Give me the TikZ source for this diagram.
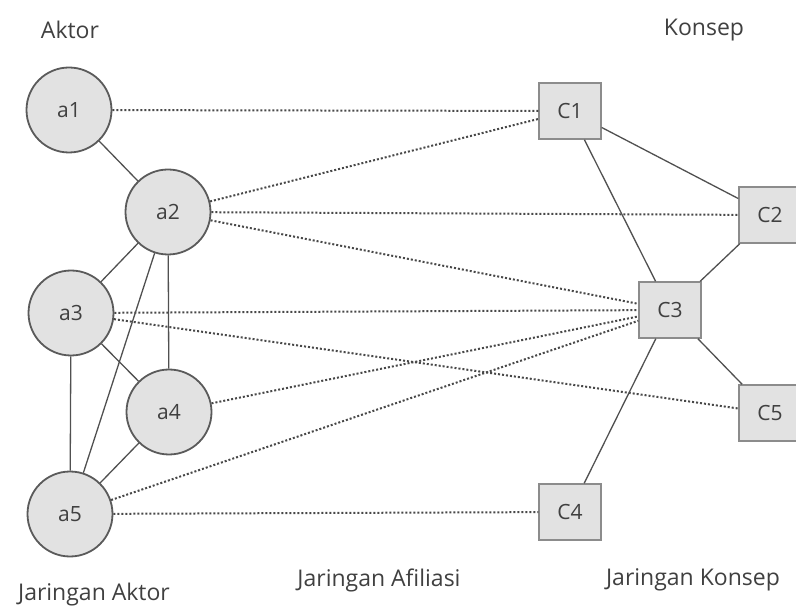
\documentclass[tikz,border=0pt]{standalone}
\usepackage{fontspec}
\setmainfont{Open Sans}
\definecolor{nodefill}{HTML}{E2E2E2}
\definecolor{nodeline}{HTML}{5A5A5A}
\definecolor{boxline}{HTML}{8C8C8C}
\definecolor{edgeline}{HTML}{505050}
\definecolor{textgray}{HTML}{404040}
\begin{document}
\begin{tikzpicture}[x=1pt, y=-1pt,
    actor/.style={circle, draw=nodeline, line width=1.8pt, fill=nodefill,
        minimum size=85pt, inner sep=0pt, font=\fontsize{21}{24}\selectfont, text=textgray},
    concept/.style={rectangle, draw=boxline, line width=1.4pt, fill=nodefill,
        minimum width=62pt, minimum height=56pt, inner sep=0pt,
        font=\fontsize{21}{24}\selectfont, text=textgray},
    tie/.style={draw=edgeline, line width=1.3pt},
    affil/.style={draw=edgeline!90!black, line width=2pt, dash pattern=on 2pt off 2pt},
    caption/.style={font=\fontsize{23}{26}\selectfont, text=textgray}]
    \useasboundingbox (0,0) rectangle (796,612);
    % Titles
    \node[caption] (tAktor) at (70,30) {Aktor};
    \node[caption] (tKonsep) at (704,30) {Konsep};
    \node[caption] (tJarAktor) at (94,595) {Jaringan Aktor};
    \node[caption] (tJarAfil) at (379,580) {Jaringan Afiliasi};
    \node[caption] (tJarKonsep) at (693,580) {Jaringan Konsep};
    % Actors
    \node[actor] (a1) at (69,110) {a1};
    \node[actor] (a2) at (168,212) {a2};
    \node[actor] (a3) at (71,313) {a3};
    \node[actor] (a4) at (169,412) {a4};
    \node[actor] (a5) at (70,514) {a5};
    % Concepts
    \node[concept] (C1) at (570,111) {C1};
    \node[concept] (C2) at (770,215) {C2};
    \node[concept] (C3) at (670,310) {C3};
    \node[concept] (C5) at (770,413) {C5};
    \node[concept] (C4) at (570,512) {C4};
    % Affiliation ties
    \draw[affil] (a1) -- (C1);
    \draw[affil] (a2) -- (C1);
    \draw[affil] (a2) -- (C2);
    \draw[affil] (a2) -- (C3);
    \draw[affil] (a3) -- (C3);
    \draw[affil] (a3) -- (C5);
    \draw[affil] (a4) -- (C3);
    \draw[affil] (a5) -- (C3);
    \draw[affil] (a5) -- (C4);
    % Actor network
    \draw[tie] (a1) -- (a2);
    \draw[tie] (a2) -- (a3);
    \draw[tie] (a2) -- (a4);
    \draw[tie] (a2) -- (a5);
    \draw[tie] (a3) -- (a4);
    \draw[tie] (a3) -- (a5);
    \draw[tie] (a4) -- (a5);
    % Concept network
    \draw[tie] (C1) -- (C2);
    \draw[tie] (C1) -- (C3);
    \draw[tie] (C2) -- (C3);
    \draw[tie] (C3) -- (C5);
    \draw[tie] (C3) -- (C4);
\end{tikzpicture}
\end{document}
